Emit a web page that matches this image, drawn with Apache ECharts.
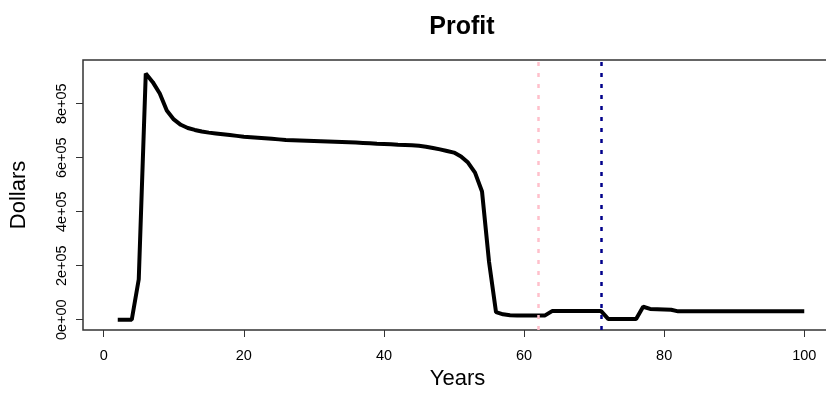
<!DOCTYPE html>
<html>
<head>
<meta charset="utf-8">
<script src="https://cdn.jsdelivr.net/npm/echarts@6/dist/echarts.min.js"></script>
<style>
html,body{margin:0;padding:0;background:#fff;}
#chart{width:826px;height:399px;}
</style>
</head>
<body>
<div id="chart"></div>
<script>
// ---- data ----
const years = [];
for (let y = 2; y <= 100; y++) years.push(y);
const profit = [
  0, 0, 0, 150000, 912000, 880000, 838000, 775000, 742000,        // 2-10
  722000, 710000, 703000, 697000, 693000, 690000, 687000, 684000, 681000, 678000, // 11-20
  676000, 674000, 672000, 670000, 668000, 666000, 665000, 664000, 663000, 662000, // 21-30
  661000, 660000, 659000, 658000, 657000, 656000, 655000, 654000, 652000, 651000, // 31-40
  650000, 648000, 647000, 646000, 644000, 641000, 636000, 631000, 625000, 619000, // 41-50
  605000, 582000, 545000, 475000, 215000, 28000, 20000, 17000, 16000, 16000,      // 51-60
  16000, 16000, 16000, 32000, 32000, 32000, 32000, 32000, 32000, 32000,           // 61-70
  32000, 3000, 3000, 3000, 3000, 3000, 48000, 40000, 39000, 38000,                // 71-80
  37000, 31000, 31000, 31000, 31000, 31000, 31000, 31000, 31000, 31000,           // 81-90
  31000, 31000, 31000, 31000, 31000, 31000, 31000, 31000, 31000, 31000            // 91-100
];
const vlineYears = [62, 71];
const vlineColors = ['#FFC0CB', '#00008B'];
const xTicks = [0, 20, 40, 60, 80, 100];
const yTicks = [0, 200000, 400000, 600000, 800000];
const yTickLabels = ['0e+00', '2e+05', '4e+05', '6e+05', '8e+05'];
const titleText = 'Profit';
const xName = 'Years';
const yName = 'Dollars';

const chart = echarts.init(document.getElementById('chart'), null, {renderer: 'canvas'});
const font = 'Liberation Sans, Arial, sans-serif';
const option = {
  animation: false,
  backgroundColor: '#fff',
  title: {
    text: titleText,
    left: 457, top: 10, textAlign: 'center',
    textStyle: {fontFamily: font, fontSize: 25, fontWeight: 'bold', color: '#000'}
  },
  grid: {
    left: 83, top: 60, width: 749, height: 270,
    outerBoundsMode: 'none', containLabel: false,
    show: true, borderColor: '#333', borderWidth: 1.5, backgroundColor: 'transparent'
  },
  xAxis: {
    type: 'value', min: -2.96, max: 103.96,
    name: xName, nameLocation: 'middle', nameGap: 36,
    nameTextStyle: {fontFamily: font, fontSize: 22, color: '#000'},
    axisLine: {show: false, onZero: false},
    axisTick: {show: true, length: 7, customValues: xTicks, lineStyle: {color: '#333'}},
    axisLabel: {customValues: xTicks, margin: 18, fontFamily: font, fontSize: 14.5, color: '#000'},
    splitLine: {show: false}
  },
  yAxis: {
    type: 'value', min: -38000, max: 962000,
    name: yName, nameLocation: 'middle', nameGap: 53, nameRotate: 90,
    nameTextStyle: {fontFamily: font, fontSize: 22, color: '#000'},
    axisLine: {show: false, onZero: false},
    axisTick: {show: true, length: 7, customValues: yTicks, lineStyle: {color: '#333'}},
    axisLabel: {
      customValues: yTicks, rotate: 90, margin: 14,
      fontFamily: font, fontSize: 14.5, color: '#000',
      formatter: v => yTickLabels[yTicks.indexOf(v)]
    },
    splitLine: {show: false}
  },
  series: [{
    type: 'line',
    data: years.map((y, i) => [y, profit[i]]),
    showSymbol: false,
    lineStyle: {color: '#000', width: 4},
    markLine: {
      silent: true, symbol: ['none', 'none'], label: {show: false},
      data: vlineYears.map((y, i) => ({xAxis: y, lineStyle: {color: vlineColors[i], type: [4, 7], width: 2.5}}))
    },
    z: 2
  }]
};
chart.setOption(option);
</script>
</body>
</html>
